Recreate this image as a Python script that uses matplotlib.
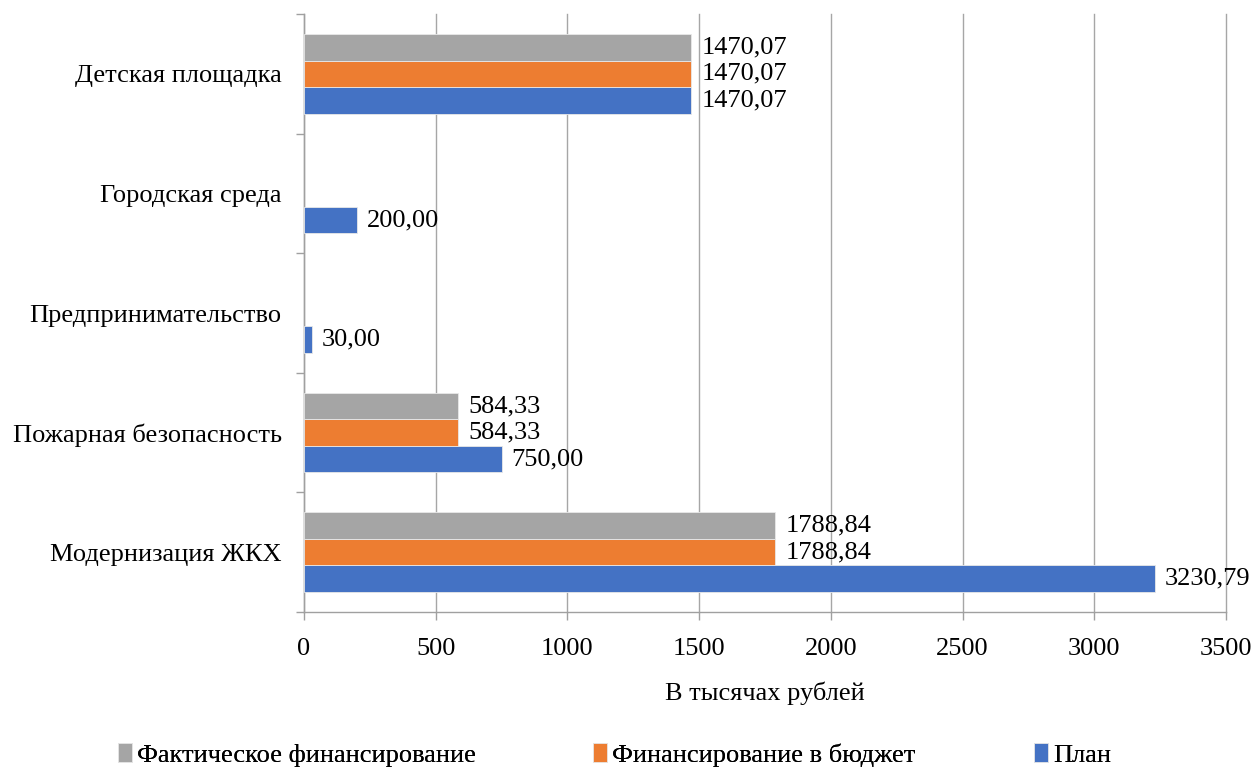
import numpy as np
import matplotlib.pyplot as plt

plt.rcParams['font.family'] = ['Liberation Serif', 'DejaVu Serif']

categories = ['Модернизация ЖКХ', 'Пожарная безопасность', 'Предпринимательство',
              'Городская среда', 'Детская площадка']
plan = [3230.79, 750.00, 30.00, 200.00, 1470.07]
budget = [1788.84, 584.33, np.nan, np.nan, 1470.07]
fact = [1788.84, 584.33, np.nan, np.nan, 1470.07]

series = [
    ('План', plan, '#4472C4'),
    ('Финансирование в бюджет', budget, '#ED7D31'),
    ('Фактическое финансирование', fact, '#A5A5A5'),
]

fig = plt.figure(figsize=(12.54, 7.67), dpi=100)
ax = fig.add_axes([0.2424, 0.2021, 0.7353, 0.7796])

y = np.arange(len(categories))
h = 0.222
handles = {}
for i, (name, vals, color) in enumerate(series):
    pos = y + (i - 1) * h
    bars = ax.barh(pos, vals, height=h, color=color, edgecolor='#e8e8e8',
                   linewidth=0.6, zorder=3)
    handles[name] = bars
    for b, v in zip(bars, vals):
        if np.isnan(v):
            continue
        ax.text(v + 38, b.get_y() + h / 2, f'{v:.2f}'.replace('.', ','),
                va='center', ha='left', fontsize=19, zorder=4)

ax.set_xlim(0, 3500)
ax.set_ylim(-0.5, len(categories) - 0.5)
ax.set_xticks(np.arange(0, 3501, 500))
ax.set_yticks(y)
ax.set_yticklabels(categories)
ax.set_yticks(np.arange(-0.5, len(categories)), minor=True)
ax.tick_params(axis='y', which='major', length=0, pad=16, labelsize=19)
ax.tick_params(axis='y', which='minor', length=6, color='#a0a0a0', width=1)
ax.tick_params(axis='x', length=6, color='#a0a0a0', width=1, labelsize=19, pad=13)
ax.grid(axis='x', color='#a6a6a6', linewidth=1, zorder=0)
for gl in ax.xaxis.get_gridlines():
    gl.set_clip_on(False)

for s in ['top', 'right']:
    ax.spines[s].set_visible(False)
for s in ['left', 'bottom']:
    ax.spines[s].set_color('#a0a0a0')
    ax.spines[s].set_linewidth(1)

ax.set_xlabel('В тысячах рублей', fontsize=19, labelpad=15)

# legend entries placed separately, as in the source layout
order = ['Фактическое финансирование', 'Финансирование в бюджет', 'План']
leg_x = [0.0941, 0.4729, 0.8246]
for n, lx in zip(order, leg_x):
    leg = fig.legend([handles[n]], [n], loc='center left',
                     bbox_to_anchor=(lx, 1 - 755 / 767), frameon=False,
                     fontsize=19, handlelength=0.53, handleheight=0.75,
                     handletextpad=0.2, borderpad=0, borderaxespad=0)
    fig.add_artist(leg)

fig.savefig('out.png', dpi=100)
